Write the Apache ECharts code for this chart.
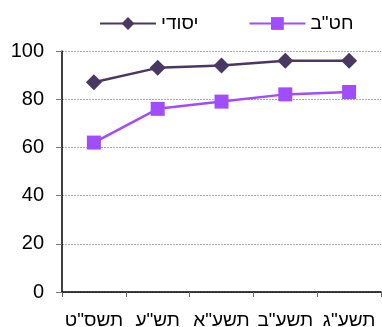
<!DOCTYPE html>
<html><head><meta charset="utf-8">
<script src="https://cdn.jsdelivr.net/npm/echarts@6/dist/echarts.min.js"></script>
<style>html,body{margin:0;padding:0;background:#fff}#c{width:382px;height:327px}</style>
</head><body><div id="c"></div>
<script>
const categories = ['תשס"ט', 'תש"ע', 'תשע"א', 'תשע"ב', 'תשע"ג'];
const yesodi = [87, 93, 94, 96, 96];
const hatab = [62, 76, 79, 82, 83];
const seriesNames = ['יסודי', 'חט"ב'];

const FONT = 'Liberation Sans, Arial, sans-serif';
const chart = echarts.init(document.getElementById('c'), null, {renderer: 'canvas'});
chart.setOption({
  animation: false,
  textStyle: {fontFamily: FONT},
  legend: {
    top: 9, left: 94,
    itemGap: 50, itemWidth: 56, itemHeight: 16,
    data: seriesNames,
    textStyle: {fontSize: 19, color: '#000', fontFamily: FONT}
  },
  grid: {left: 62, right: 1, top: 51, bottom: 35, containLabel: false, outerBoundsMode: 'none'},
  xAxis: {
    type: 'category', data: categories, boundaryGap: true,
    axisLine: {lineStyle: {color: '#000', width: 1.5}},
    axisTick: {show: true, length: 5, lineStyle: {color: '#666'}},
    axisLabel: {fontSize: 19, color: '#000', margin: 19, interval: 0, fontFamily: FONT}
  },
  yAxis: {
    type: 'value', min: 0, max: 100, interval: 20,
    axisLine: {show: true, lineStyle: {color: '#000', width: 1.5}},
    axisTick: {show: true, length: 6, lineStyle: {color: '#777'}},
    axisLabel: {fontSize: 20, color: '#000', margin: 18, fontFamily: FONT},
    splitLine: {lineStyle: {color: '#aaa', type: [2, 1], width: 1}}
  },
  series: [
    {
      name: seriesNames[0], type: 'line', data: yesodi,
      symbol: 'diamond', symbolSize: 16,
      lineStyle: {color: '#4a3862', width: 2.5},
      itemStyle: {color: '#4a3862'}
    },
    {
      name: seriesNames[1], type: 'line', data: hatab,
      symbol: 'rect', symbolSize: 14,
      lineStyle: {color: '#a04cff', width: 2.5},
      itemStyle: {color: '#a04cff'}
    }
  ]
});
</script></body></html>
